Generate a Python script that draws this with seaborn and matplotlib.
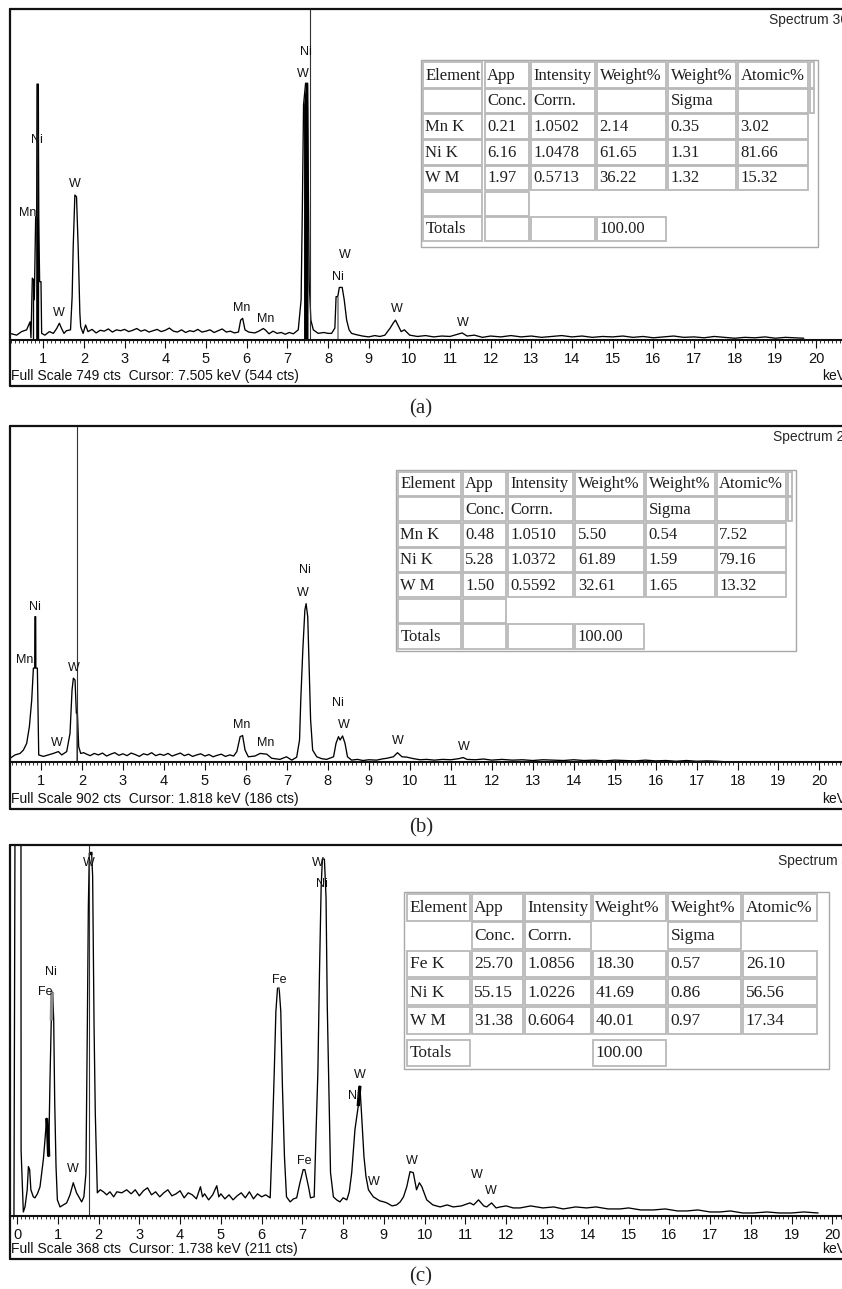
import numpy as np
import pandas as pd
import matplotlib
matplotlib.use("Agg")
import matplotlib.pyplot as plt
from matplotlib.lines import Line2D
from matplotlib.patches import Rectangle
from matplotlib.ticker import MultipleLocator
import seaborn as sns

W, H = 842, 1289

# ---- spectra: (keV, counts) ----
spec_a = [
    (0.18, 15), (0.345, 11), (0.468, 19), (0.59, 23), (0.674, 41), (0.698, 5),
    (0.731, 140), (0.764, 136), (0.78, 91), (0.813, 279), (0.838, 279), (0.846, 579),
    (0.879, 579), (0.887, 279), (0.911, 132), (0.944, 132), (0.96, 15), (1.04, 11),
    (1.15, 19), (1.248, 15), (1.33, 26), (1.395, 38), (1.45, 26), (1.51, 15), (1.57, 21),
    (1.67, 23), (1.71, 98), (1.736, 211), (1.777, 328), (1.818, 324), (1.86, 204),
    (1.9, 60), (1.92, 30), (1.98, 15), (2.04, 34), (2.1, 19),
    (2.2, 24), (2.3, 16), (2.4, 22), (2.5, 20), (2.6, 25), (2.7, 18), (2.8, 23), (2.9, 21),
    (3.0, 24), (3.1, 19), (3.2, 22), (3.3, 26), (3.4, 20), (3.5, 23), (3.6, 18), (3.7, 21),
    (3.8, 24), (3.9, 19), (4.0, 22), (4.1, 27), (4.2, 20), (4.3, 18), (4.4, 23), (4.5, 17),
    (4.6, 21), (4.7, 19), (4.8, 24), (4.9, 18), (5.0, 20), (5.1, 23), (5.2, 17), (5.3, 21),
    (5.4, 25), (5.5, 18), (5.6, 20), (5.7, 16), (5.8, 18),
    (5.854, 45), (5.903, 49), (5.96, 23), (6.05, 18), (6.2, 16), (6.3, 20), (6.41, 26),
    (6.47, 22), (6.55, 14), (6.65, 20), (6.75, 15), (6.85, 17), (6.95, 13), (7.05, 17),
    (7.15, 14), (7.27, 23),
    (7.34, 91), (7.37, 294), (7.40, 532), (7.45, 581), (7.50, 581), (7.51, 430),
    (7.54, 128), (7.58, 45), (7.64, 23), (7.76, 15), (7.9, 17), (8.0, 15), (8.09, 15),
    (8.17, 27), (8.20, 98), (8.225, 98), (8.245, 100), (8.28, 119), (8.35, 119),
    (8.40, 91), (8.46, 45), (8.52, 23), (8.58, 15), (8.7, 12), (8.85, 9), (9.0, 7),
    (9.15, 10), (9.28, 8), (9.40, 11), (9.53, 27), (9.61, 39), (9.66, 45), (9.72, 34),
    (9.8, 19), (9.88, 23), (10.01, 11),
    (10.2, 8), (10.4, 10), (10.6, 7), (10.8, 9), (11.0, 8), (11.15, 12), (11.3, 16),
    (11.42, 9), (11.6, 11), (11.8, 6), (12.0, 9), (12.25, 7), (12.5, 10), (12.75, 7),
    (13.0, 9), (13.25, 6), (13.5, 8), (13.75, 10), (14.0, 7), (14.25, 9), (14.5, 6),
    (14.75, 8), (15.0, 7), (15.25, 9), (15.5, 6), (15.75, 8), (16.0, 5), (16.25, 7),
    (16.5, 9), (16.75, 6), (17.0, 7), (17.25, 5), (17.5, 8), (17.75, 6), (18.0, 4),
    (18.25, 6), (18.5, 5), (18.75, 7), (19.0, 4), (19.25, 6), (19.5, 5), (19.7, 4),
]

spec_b = [
    (0.244, 10), (0.366, 19), (0.488, 23), (0.57, 32), (0.65, 50), (0.716, 95),
    (0.773, 166), (0.814, 252), (0.846, 252), (0.85, 390), (0.87, 390), (0.874, 252),
    (0.911, 252), (0.944, 19), (1.057, 15), (1.18, 19), (1.3, 23), (1.424, 28),
    (1.505, 19), (1.627, 28), (1.708, 77), (1.757, 193), (1.79, 225), (1.83, 220),
    (1.863, 131), (1.888, 131), (1.92, 41), (1.969, 23), (2.04, 25), (2.115, 21),
    (2.2, 17), (2.3, 23), (2.4, 19), (2.5, 24), (2.6, 16), (2.7, 21), (2.8, 25), (2.9, 18),
    (3.0, 22), (3.1, 17), (3.2, 24), (3.3, 20), (3.4, 15), (3.5, 22), (3.6, 19), (3.7, 25),
    (3.8, 17), (3.9, 21), (4.0, 18), (4.1, 23), (4.2, 16), (4.3, 20), (4.4, 24), (4.5, 17),
    (4.6, 21), (4.7, 15), (4.8, 19), (4.9, 22), (5.0, 16), (5.1, 20), (5.2, 14), (5.3, 18),
    (5.4, 21), (5.5, 15), (5.61, 19), (5.7, 16),
    (5.78, 28), (5.86, 68), (5.92, 71), (5.98, 32), (6.06, 14), (6.22, 16), (6.35, 23),
    (6.51, 21), (6.63, 10), (6.83, 7), (6.99, 14), (7.12, 5), (7.24, 13), (7.31, 59),
    (7.34, 166), (7.39, 301), (7.44, 408), (7.47, 425), (7.51, 390), (7.54, 273),
    (7.58, 113), (7.63, 32), (7.73, 14), (7.85, 9), (7.97, 7), (8.14, 14), (8.2, 50),
    (8.26, 68), (8.3, 59), (8.36, 70), (8.42, 50), (8.48, 14), (8.58, 5), (8.72, 7),
    (8.86, 4), (9.0, 6), (9.19, 5), (9.32, 8), (9.44, 10), (9.6, 14), (9.7, 25),
    (9.81, 14), (9.93, 13), (10.09, 9), (10.25, 6), (10.41, 7), (10.6, 5), (10.8, 7),
    (11.0, 6), (11.2, 9), (11.3, 12), (11.4, 7), (11.6, 6), (11.8, 8), (12.0, 5),
    (12.25, 7), (12.5, 5), (12.75, 6), (13.0, 4), (13.25, 6), (13.5, 5), (13.75, 4),
    (14.0, 6), (14.25, 4), (14.5, 5), (14.75, 3), (15.0, 5), (15.25, 4), (15.5, 3),
    (15.75, 5), (16.0, 3), (16.25, 4), (16.5, 2), (16.75, 4), (17.0, 2), (17.25, 3),
    (17.5, 2), (17.65, 1),
]

spec_c = [
    (-0.075, 0), (-0.07, 77), (-0.035, 600), (0.095, 600), (0.10, 65), (0.155, 4),
    (0.196, 9), (0.25, 26), (0.28, 49), (0.31, 46), (0.34, 26), (0.40, 19), (0.44, 18),
    (0.50, 22), (0.564, 29), (0.646, 56), (0.687, 76), (0.727, 97), (0.752, 86),
    (0.776, 59), (0.809, 135), (0.842, 194), (0.855, 222), (0.875, 222), (0.9, 194),
    (0.924, 115), (0.957, 49), (0.99, 16), (1.055, 9), (1.137, 11), (1.218, 13),
    (1.3, 21), (1.38, 33), (1.42, 28), (1.46, 23), (1.53, 18), (1.586, 14), (1.64, 19),
    (1.69, 42), (1.725, 188), (1.75, 307), (1.774, 360), (1.83, 360), (1.855, 337),
    (1.89, 188), (1.92, 102), (1.97, 23), (2.04, 26), (2.12, 24), (2.2, 21), (2.28, 24),
    (2.37, 19), (2.45, 24), (2.57, 23), (2.69, 26),
    (2.8, 22), (2.9, 26), (3.0, 20), (3.1, 25), (3.2, 28), (3.3, 21), (3.4, 24), (3.5, 19),
    (3.6, 23), (3.7, 26), (3.8, 20), (3.9, 22), (4.0, 25), (4.1, 18), (4.2, 23), (4.3, 21),
    (4.4, 17), (4.5, 29), (4.55, 19), (4.6, 22), (4.7, 16), (4.8, 21), (4.9, 30),
    (4.95, 19), (5.0, 22), (5.1, 17), (5.2, 21), (5.3, 16), (5.4, 20), (5.5, 23),
    (5.6, 18), (5.7, 24), (5.8, 17), (5.9, 22), (6.0, 19), (6.1, 21), (6.21, 18),
    (6.26, 76), (6.31, 143), (6.35, 203), (6.39, 226), (6.43, 226), (6.47, 203),
    (6.51, 129), (6.56, 59), (6.61, 19), (6.70, 14), (6.78, 17), (6.86, 18), (6.94, 33),
    (7.02, 46), (7.06, 46), (7.15, 29), (7.2, 18), (7.29, 19), (7.33, 76), (7.38, 143),
    (7.42, 243), (7.46, 326), (7.49, 354), (7.54, 354), (7.58, 316), (7.61, 209),
    (7.65, 126), (7.69, 43), (7.76, 19), (7.84, 16), (7.92, 14), (8.0, 18), (8.09, 16),
    (8.15, 24), (8.21, 43), (8.29, 86), (8.37, 109), (8.41, 129), (8.45, 102),
    (8.51, 59), (8.56, 39), (8.62, 26), (8.74, 19), (8.82, 17), (8.9, 15), (9.0, 14),
    (9.07, 13), (9.2, 10), (9.31, 11), (9.4, 14), (9.48, 19), (9.56, 29), (9.64, 44),
    (9.72, 43), (9.8, 26), (9.87, 33), (9.93, 29), (10.05, 16), (10.2, 11), (10.38, 9),
    (10.55, 11), (10.7, 9), (10.9, 10), (11.11, 13), (11.2, 11), (11.32, 16), (11.45, 10),
    (11.52, 9), (11.64, 13), (11.75, 8), (11.85, 9), (12.0, 10), (12.17, 8), (12.34, 8),
    (12.6, 10), (12.9, 8), (13.16, 9), (13.4, 7), (13.7, 9), (13.97, 8), (14.2, 9),
    (14.5, 7), (14.79, 7), (15.0, 8), (15.3, 6), (15.61, 6), (15.9, 7), (16.2, 5),
    (16.43, 5), (16.7, 6), (17.0, 4), (17.24, 4), (17.5, 5), (17.8, 3), (18.06, 3),
    (18.4, 4), (18.7, 3), (19.0, 3), (19.3, 4), (19.65, 3),
]

# peak labels: (text, keV, counts)
labels_a = [("Ni", 0.84, 453), ("Mn", 0.61, 287), ("W", 1.78, 353), ("W", 1.39, 61),
            ("Mn", 5.87, 72), ("Mn", 6.47, 48), ("Ni", 7.46, 652), ("W", 7.39, 602),
            ("W", 8.42, 192), ("Ni", 8.25, 143), ("W", 9.69, 70), ("W", 11.31, 38)]
labels_b = [("Ni", 0.84, 417), ("Mn", 0.61, 274), ("W", 1.79, 252), ("W", 1.38, 52),
            ("Mn", 5.89, 99), ("Mn", 6.48, 52), ("Ni", 7.45, 515), ("W", 7.39, 455),
            ("Ni", 8.24, 159), ("W", 8.40, 99), ("W", 9.71, 57), ("W", 11.31, 41)]
labels_c = [("W", 1.77, 350), ("Ni", 0.834, 242), ("Fe", 0.70, 222), ("W", 1.38, 47),
            ("Fe", 6.43, 234), ("W", 7.39, 350), ("Ni", 7.49, 329), ("Fe", 7.05, 55),
            ("W", 8.40, 140), ("Ni", 8.27, 119), ("W", 8.74, 34), ("W", 9.68, 55),
            ("W", 11.28, 41), ("W", 11.62, 25)]

full_scale = {"a": 749, "b": 902, "c": 368}
cursor_pos = {"a": 7.56, "b": 1.87, "c": 1.774}
info_text = {
    "a": "Full Scale 749 cts  Cursor: 7.505 keV (544 cts)",
    "b": "Full Scale 902 cts  Cursor: 1.818 keV (186 cts)",
    "c": "Full Scale 368 cts  Cursor: 1.738 keV (211 cts)",
}
spectrum_name = {"a": "Spectrum 36", "b": "Spectrum 2", "c": "Spectrum 4"}

# quantification tables (None = no cell)
table_a = [
    ["Element", "App", "Intensity", "Weight%", "Weight%", "Atomic%", ""],
    ["", "Conc.", "Corrn.", "", "Sigma", "", ""],
    ["Mn K", "0.21", "1.0502", "2.14", "0.35", "3.02"],
    ["Ni K", "6.16", "1.0478", "61.65", "1.31", "81.66"],
    ["W M", "1.97", "0.5713", "36.22", "1.32", "15.32"],
    ["", ""],
    ["Totals", "", "", "100.00"],
]
table_b = [
    ["Element", "App", "Intensity", "Weight%", "Weight%", "Atomic%", ""],
    ["", "Conc.", "Corrn.", "", "Sigma", "", ""],
    ["Mn K", "0.48", "1.0510", "5.50", "0.54", "7.52"],
    ["Ni K", "5.28", "1.0372", "61.89", "1.59", "79.16"],
    ["W M", "1.50", "0.5592", "32.61", "1.65", "13.32"],
    ["", ""],
    ["Totals", "", "", "100.00"],
]
table_c = [
    ["Element", "App", "Intensity", "Weight%", "Weight%", "Atomic%"],
    [None, "Conc.", "Corrn.", None, "Sigma", None],
    ["Fe K", "25.70", "1.0856", "18.30", "0.57", "26.10"],
    ["Ni K", "55.15", "1.0226", "41.69", "0.86", "56.56"],
    ["W M", "31.38", "0.6064", "40.01", "0.97", "17.34"],
    ["Totals", None, None, "100.00"],
]

sns.set_style("white")
plt.rcParams['font.family'] = ['Liberation Sans', 'DejaVu Sans']

fig = plt.figure(figsize=(W / 100, H / 100), dpi=100)


def fx(px):
    return px / W


def fy(py):
    return 1 - py / H


def hline(x0, x1, y, **kw):
    fig.add_artist(Line2D([fx(x0), fx(x1)], [fy(y), fy(y)], transform=fig.transFigure, **kw))


def vline(x, y0, y1, **kw):
    fig.add_artist(Line2D([fx(x), fx(x)], [fy(y0), fy(y1)], transform=fig.transFigure, **kw))


def draw_panel(key, spec, labels, xlim, top, base, bottom, fills, bolds):
    ax = fig.add_axes([fx(10), fy(base), (W - 10) / W, (base - top) / H])
    df = pd.DataFrame(spec, columns=["keV", "cts"])
    sns.lineplot(data=df, x="keV", y="cts", ax=ax, color="black", lw=0.95,
                 estimator=None, sort=False, legend=False)
    e = df["keV"].to_numpy()
    c = df["cts"].to_numpy()
    for lo, hi, col in fills:
        m = (e >= lo - 1e-9) & (e <= hi + 1e-9)
        ax.fill_between(e[m], 0, c[m], color=col, lw=0)
    for lo, hi, col in bolds:
        m = (e >= lo - 1e-9) & (e <= hi + 1e-9)
        ax.plot(e[m], c[m], color=col, lw=2.4, solid_capstyle="butt")
    ax.axvline(cursor_pos[key], color="#333333", lw=0.8)
    for txt, xe, yc in labels:
        ax.text(xe, yc, txt, ha="center", va="center", fontsize=9, color="#111111")

    ax.set_xticks(range(0, 21))
    ax.xaxis.set_minor_locator(MultipleLocator(0.1))
    ax.set_yticks([])
    ax.set_xlim(*xlim)
    ax.set_ylim(0, full_scale[key])
    ax.set_xlabel("")
    ax.set_ylabel("")
    ax.tick_params(axis="x", which="major", direction="out", length=5.5, width=0.8,
                   labelsize=10.5, pad=3.0, colors="#111111", bottom=True)
    ax.tick_params(axis="x", which="minor", direction="out", length=2.2, width=0.6,
                   colors="#111111", bottom=True)
    for s in ["top", "left", "right"]:
        ax.spines[s].set_visible(False)
    ax.spines["bottom"].set_linewidth(1.5)
    ax.spines["bottom"].set_color("#111111")

    # outer frame of the screenshot
    vline(10, top, bottom, color="#111111", lw=1.6)
    hline(10, W, top, color="#111111", lw=1.6)
    hline(10, W, bottom, color="#111111", lw=1.6)

    info_y = bottom - 10
    fig.text(fx(11), fy(info_y), info_text[key], ha="left", va="center", fontsize=10,
             color="#111111")
    fig.text(fx(822), fy(info_y), "keV", ha="left", va="center", fontsize=10, color="#111111")
    return ax


def draw_table(rows, cols, row_edges, outer, size):
    x0, y0, x1, y1 = outer
    fig.add_artist(Rectangle((fx(x0), fy(y1)), (x1 - x0) / W, (y1 - y0) / H,
                             transform=fig.transFigure, fill=False, ec="#a8a8a8", lw=1.0))
    for r, cells in enumerate(rows):
        t, b = row_edges[r]
        for ci, txt in enumerate(cells):
            if txt is None:
                continue
            left, right = cols[ci] + 1, cols[ci + 1] - 1
            fig.add_artist(Rectangle((fx(left), fy(b)), (right - left) / W, (b - t) / H,
                                     transform=fig.transFigure, fill=False,
                                     ec="#b9b9b9", lw=1.3))
            if txt:
                fig.text(fx(left + 2.5), fy((t + b) / 2 + 0.5), txt, ha="left", va="center",
                         fontsize=size, family=["Liberation Serif", "DejaVu Serif"],
                         color="#1e1e1e")


# panel (a)
draw_panel("a", spec_a, labels_a, (0.182, 20.64), 9, 340, 386,
           fills=[(0.731, 0.764, "black"), (0.813, 0.887, "black"),
                  (7.40, 7.51, "black"), (8.225, 8.245, "black")],
           bolds=[])
fig.text(fx(769), fy(20), spectrum_name["a"], ha="left", va="center", fontsize=10)
draw_table(table_a,
           [422, 483.5, 530, 596, 667, 737, 808.5, 815],
           [(62.5, 87.5), (89, 112.5), (114, 138.5), (140, 164.5), (165.8, 190),
            (191.5, 215.5), (216.8, 241)],
           (420.5, 60, 817.5, 246.5), 12)
fig.text(fx(421), fy(409), "(a)", ha="center", va="center", fontsize=15,
         family=["Liberation Serif", "DejaVu Serif"])

# panel (b)
draw_panel("b", spec_b, labels_b, (0.243, 20.55), 426, 762, 809,
           fills=[(1.863, 1.888, "#8a8a8a")],
           bolds=[])
fig.text(fx(773), fy(437), spectrum_name["b"], ha="left", va="center", fontsize=10)
draw_table(table_b,
           [397, 461.7, 507.3, 574.3, 645, 715.7, 786.7, 793.3],
           [(471.5, 496), (497.5, 521), (522.5, 546.5), (548, 572), (573.5, 597.5),
            (599, 622.5), (624, 648.5)],
           (395.5, 469.5, 795.7, 651), 12)
fig.text(fx(421), fy(828), "(b)", ha="center", va="center", fontsize=15,
         family=["Liberation Serif", "DejaVu Serif"])

# panel (c)
draw_panel("c", spec_c, labels_c, (-0.172, 20.236), 845, 1216, 1259,
           fills=[],
           bolds=[(0.727, 0.776, "black"), (0.842, 0.875, "#8a8a8a"),
                  (1.774, 1.83, "black"), (6.39, 6.43, "#8a8a8a"), (8.37, 8.41, "black")])
fig.text(fx(778), fy(861), spectrum_name["c"], ha="left", va="center", fontsize=10)
draw_table(table_c,
           [406, 470.7, 524, 591.7, 667.3, 742.3, 818.3],
           [(894, 920.5), (922.3, 948.8), (950.6, 977.1), (978.9, 1005.4),
            (1007.2, 1033.7), (1039.5, 1065.5)],
           (403.5, 891.5, 828.5, 1068.5), 12.5)
fig.text(fx(421), fy(1277), "(c)", ha="center", va="center", fontsize=15,
         family=["Liberation Serif", "DejaVu Serif"])

fig.savefig("out.png", dpi=100, facecolor="white")
